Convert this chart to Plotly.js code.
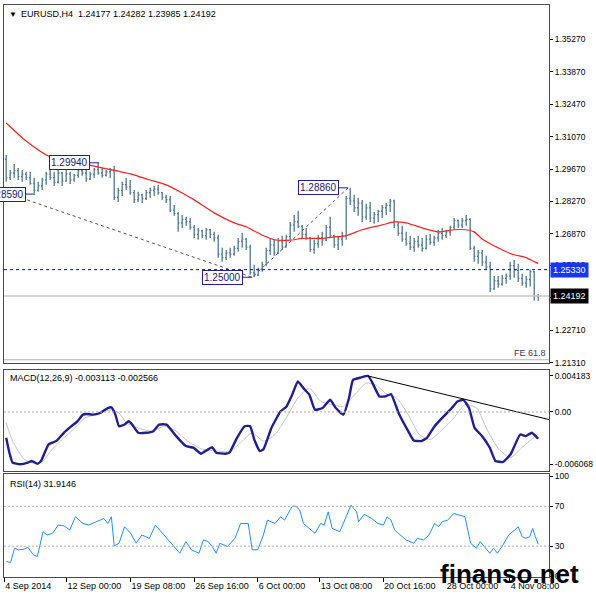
<!DOCTYPE html>
<html><head><meta charset="utf-8">
<script src="https://cdn.plot.ly/plotly-3.0.1.min.js"></script>
<style>html,body{margin:0;padding:0;background:#fff}#chart{width:596px;height:600px}</style>
</head><body><div id="chart"></div>
<script>
// ---- price bars (EURUSD H4, sampled) ----
const barOpen = [1.3010,1.2930,1.2950,1.2960,1.2935,1.2945,1.2930,1.2905,1.2875,1.2895,
1.2920,1.2945,1.2930,1.2910,1.2950,1.2915,1.2945,1.2920,1.2940,1.2960,
1.2950,1.2925,1.2945,1.2965,1.2950,1.2940,1.2955,1.2960,1.2845,1.2875,
1.2900,1.2890,1.2865,1.2835,1.2855,1.2840,1.2865,1.2875,1.2880,1.2865,
1.2845,1.2835,1.2790,1.2775,1.2735,1.2750,1.2740,1.2715,1.2685,1.2700,
1.2680,1.2705,1.2685,1.2670,1.2600,1.2585,1.2605,1.2600,1.2625,1.2655,
1.2665,1.2630,1.2520,1.2510,1.2535,1.2555,1.2615,1.2640,1.2605,1.2655,
1.2630,1.2675,1.2725,1.2740,1.2720,1.2685,1.2670,1.2620,1.2645,1.2670,
1.2660,1.2715,1.2680,1.2640,1.2665,1.2680,1.2840,1.2830,1.2800,1.2820,
1.2760,1.2800,1.2755,1.2770,1.2785,1.2800,1.2810,1.2830,1.2725,1.2690,
1.2665,1.2645,1.2630,1.2655,1.2640,1.2625,1.2665,1.2650,1.2670,1.2690,
1.2680,1.2695,1.2715,1.2745,1.2725,1.2745,1.2750,1.2625,1.2590,1.2605,
1.2565,1.2545,1.2450,1.2485,1.2470,1.2495,1.2505,1.2550,1.2530,1.2495,
1.2475,1.2490,1.2525,1.24177];
const barHigh = [1.3028,1.2963,1.2989,1.2972,1.2963,1.2955,1.2955,1.2929,1.2912,1.2929,
1.2955,1.2963,1.2955,1.2963,1.2955,1.2963,1.2955,1.2946,1.2972,1.2981,
1.2963,1.2955,1.2972,1.2994,1.2972,1.2963,1.2972,1.2981,1.2886,1.2912,
1.2929,1.2920,1.2877,1.2869,1.2860,1.2877,1.2886,1.2894,1.2899,1.2869,
1.2856,1.2851,1.2812,1.2782,1.2769,1.2761,1.2756,1.2726,1.2713,1.2705,
1.2713,1.2709,1.2696,1.2683,1.2627,1.2618,1.2627,1.2636,1.2670,1.2692,
1.2670,1.2640,1.2554,1.2541,1.2567,1.2627,1.2670,1.2662,1.2670,1.2679,
1.2683,1.2739,1.2769,1.2787,1.2726,1.2713,1.2675,1.2662,1.2683,1.2696,
1.2726,1.2761,1.2683,1.2679,1.2696,1.2851,1.2886,1.2856,1.2843,1.2834,
1.2817,1.2825,1.2782,1.2791,1.2812,1.2821,1.2838,1.2835,1.2739,1.2722,
1.2696,1.2679,1.2670,1.2679,1.2670,1.2683,1.2687,1.2679,1.2705,1.2713,
1.2705,1.2722,1.2756,1.2748,1.2756,1.2769,1.2755,1.2636,1.2618,1.2618,
1.2593,1.2567,1.2506,1.2506,1.2511,1.2515,1.2567,1.2575,1.2558,1.2515,
1.2506,1.2533,1.2528,1.24282];
const barLow = [1.2912,1.2920,1.2929,1.2920,1.2912,1.2920,1.2899,1.2864,1.2869,1.2877,
1.2899,1.2920,1.2894,1.2905,1.2894,1.2912,1.2903,1.2912,1.2929,1.2938,
1.2912,1.2920,1.2929,1.2942,1.2929,1.2935,1.2929,1.2834,1.2825,1.2851,
1.2877,1.2856,1.2821,1.2825,1.2821,1.2834,1.2843,1.2851,1.2856,1.2834,
1.2821,1.2782,1.2765,1.2696,1.2713,1.2722,1.2705,1.2670,1.2662,1.2670,
1.2662,1.2670,1.2653,1.2584,1.2567,1.2575,1.2584,1.2593,1.2610,1.2627,
1.2618,1.2511,1.2500,1.2506,1.2524,1.2549,1.2597,1.2593,1.2600,1.2618,
1.2628,1.2662,1.2696,1.2713,1.2670,1.2662,1.2610,1.2601,1.2627,1.2636,
1.2655,1.2670,1.2627,1.2618,1.2636,1.2662,1.2812,1.2782,1.2765,1.2739,
1.2748,1.2739,1.2731,1.2739,1.2756,1.2769,1.2782,1.2713,1.2679,1.2653,
1.2636,1.2618,1.2610,1.2627,1.2610,1.2620,1.2640,1.2636,1.2653,1.2662,
1.2670,1.2679,1.2705,1.2713,1.2713,1.2722,1.2618,1.2567,1.2558,1.2549,
1.2532,1.2437,1.2446,1.2455,1.2463,1.2472,1.2489,1.2498,1.2480,1.2463,
1.2455,1.2460,1.2400,1.23985];
const barClose = [1.2930,1.2950,1.2960,1.2935,1.2945,1.2930,1.2905,1.2875,1.2895,1.2920,
1.2945,1.2930,1.2910,1.2950,1.2915,1.2945,1.2920,1.2940,1.2960,1.2950,
1.2925,1.2945,1.2965,1.2950,1.2940,1.2955,1.2960,1.2845,1.2875,1.2900,
1.2890,1.2865,1.2835,1.2855,1.2840,1.2865,1.2875,1.2880,1.2865,1.2845,
1.2835,1.2790,1.2775,1.2735,1.2750,1.2740,1.2715,1.2685,1.2700,1.2680,
1.2705,1.2685,1.2670,1.2600,1.2585,1.2605,1.2600,1.2625,1.2655,1.2665,
1.2630,1.2520,1.2510,1.2535,1.2555,1.2615,1.2640,1.2605,1.2655,1.2630,
1.2675,1.2725,1.2740,1.2720,1.2685,1.2670,1.2620,1.2645,1.2670,1.2660,
1.2715,1.2680,1.2640,1.2665,1.2680,1.2840,1.2830,1.2800,1.2820,1.2760,
1.2800,1.2755,1.2770,1.2785,1.2800,1.2810,1.2830,1.2725,1.2690,1.2665,
1.2645,1.2630,1.2655,1.2640,1.2625,1.2665,1.2650,1.2670,1.2690,1.2680,
1.2695,1.2715,1.2745,1.2725,1.2745,1.2750,1.2625,1.2590,1.2605,1.2565,
1.2545,1.2450,1.2485,1.2470,1.2495,1.2505,1.2550,1.2530,1.2495,1.2475,
1.2490,1.2525,1.2418,1.24192];

// ---- moving average (red) ----
const maIdx = [0,5,11,17,24,31,36,40,44,47,52,57,60,62,65,67,71,74,79,83,85,89,94,97,100,104,108,112,115,117,119,121,123,125,127,130,132,133];
const maVal = [1.3166,1.3088,1.3019,1.2998,1.2972,1.2946,1.2920,1.2899,1.2864,1.2834,
1.2778,1.2735,1.2718,1.2700,1.2675,1.2662,1.2660,1.2668,1.2668,1.2675,
1.2680,1.2705,1.2726,1.2739,1.2735,1.2713,1.2696,1.2705,1.2705,1.2696,
1.2665,1.2645,1.2627,1.2610,1.2597,1.2585,1.2567,1.2560];

// ---- Fibonacci expansion points ----
const feIdx = [1, 61.5, 85.5];
const fePrice = [1.2859, 1.2500, 1.2886];
const feLevel = 1.2144;

// ---- labelled price points ----
const labelIdx = [7.25, 23.25, 61.5, 85.5];
const labelPrice = [1.2859, 1.2994, 1.2500, 1.2886];
const labelText = ['1.28590', '1.29940', '1.25000', '1.28860'];

const levelLine = 1.2533;   // blue dashed
const lastPrice = 1.24192;  // grey bid line

// ---- MACD ----
const macdIdx = [0,0.7,1.6,3.5,5.4,6.4,7.8,8.7,10.6,12.5,14.4,16.3,17.8,19.2,20.1,21.6,23.5,25.4,26.3,27.3,
28.2,29.6,30.6,31.5,33.0,34.9,36.8,38.2,40.1,42.5,44.9,46.8,48.7,50.1,51.5,52.5,54.8,55.8,57.7,59.6,
61.0,62.0,63.4,64.3,66.3,68.6,70.1,71.5,72.9,74.3,75.8,77.2,79.1,81.0,82.4,84.3,85.7,86.7,88.6,90.5,
91.4,93.3,94.8,96.2,98.1,100.5,101.9,103.8,105.2,107.1,109.0,111.4,112.8,114.3,115.7,117.1,119.0,120.9,122.3,124.2,
126.1,128.5,129.9,131.4,133];
const macdVal = [-0.00300,-0.00454,-0.00588,-0.00607,-0.00588,-0.00569,-0.00603,-0.00569,-0.00377,-0.00338,
-0.00242,-0.00165,-0.00108,-0.00031,-0.00023,-0.00031,-0.00012,0.00046,0.00054,-0.00031,
-0.00165,-0.00146,-0.00108,-0.00146,-0.00242,-0.00242,-0.00223,-0.00146,-0.00146,-0.00281,
-0.00396,-0.00415,-0.00485,-0.00446,-0.00408,-0.00473,-0.00485,-0.00473,-0.00300,-0.00165,
-0.00165,-0.00319,-0.00454,-0.00435,-0.00185,0.00008,0.00065,0.00200,0.00354,0.00277,
0.00200,0.00027,0.00046,0.00142,0.00046,-0.00031,0.00162,0.00373,0.00400,0.00418,
0.00354,0.00181,0.00181,0.00208,-0.00012,-0.00223,-0.00331,-0.00338,-0.00300,-0.00165,
-0.00069,0.00046,0.00123,0.00142,0.00046,-0.00185,-0.00281,-0.00415,-0.00569,-0.00581,
-0.00492,-0.00262,-0.00281,-0.00242,-0.00311];
const sigIdx = [0,1.6,4.5,7.3,9.2,11.1,14.0,16.8,19.7,22.5,26.3,28.2,30.1,33.0,36.3,39.6,42.5,45.3,49.1,53.0,
55.8,58.6,61.5,64.3,67.2,70.0,72.9,75.8,78.6,81.4,84.3,87.1,90.0,92.4,94.8,97.6,100.5,103.3,106.1,109.0,
111.9,114.7,117.6,120.4,123.2,126.1,128.9,131.8,133];
const sigVal = [-0.00127,-0.00338,-0.00550,-0.00600,-0.00570,-0.00454,-0.00319,-0.00204,-0.00069,-0.00031,
0.00027,-0.00012,-0.00127,-0.00185,-0.00223,-0.00165,-0.00223,-0.00338,-0.00435,-0.00454,
-0.00462,-0.00358,-0.00242,-0.00338,-0.00262,-0.00069,0.00162,0.00277,0.00123,0.00085,
0.00065,0.00200,0.00335,0.00315,0.00219,0.00162,-0.00031,-0.00262,-0.00319,-0.00204,
-0.00069,0.00085,0.00046,-0.00223,-0.00435,-0.00531,-0.00415,-0.00300,-0.00257];
const macdTrendIdx = [90.5, 135.7];
const macdTrendVal = [0.00418, -0.00088];

// ---- RSI ----
const rsiIdx = [0,1.1,2.1,3.0,4.5,5.4,6.8,7.8,9.2,10.2,11.6,13.0,14.4,15.9,17.3,19.2,20.6,22.0,23.5,24.4,
25.4,26.3,27.0,28.2,29.6,31.1,32.5,33.9,35.8,37.3,38.7,40.6,42.0,43.4,44.9,46.3,48.2,49.3,50.5,51.5,
52.5,53.4,55.3,57.2,58.6,60.5,61.5,62.9,64.3,65.3,67.2,68.6,69.6,71.5,72.4,73.4,74.3,76.2,77.2,78.6,
79.5,80.5,81.5,83.4,84.8,86.2,87.6,88.1,89.5,91.4,92.9,94.3,95.2,96.2,97.1,98.1,100.0,101.9,102.8,104.3,
105.7,107.1,108.1,109.0,110.4,111.9,113.8,114.7,116.1,117.6,118.5,119.5,120.9,121.8,122.8,124.2,125.6,127.1,128.0,129.0,
129.9,130.9,131.6,132.3,133];
const rsiVal = [14.6,13.6,27.9,26.3,26.9,28.9,21.3,19.6,44.5,41.2,42.9,51.2,50.5,46.2,59.5,52.8,51.2,54.0,56.2,57.8,
52.8,59.5,30.2,32.9,49.5,42.9,32.9,41.2,37.9,51.2,44.5,36.2,29.6,22.9,34.6,26.3,22.9,36.2,34.6,29.6,
22.9,32.9,29.6,37.9,52.8,52.8,26.3,26.3,41.2,56.2,52.8,59.5,56.2,70.1,70.1,66.1,52.8,46.2,42.9,52.8,
51.2,64.5,47.8,44.5,57.8,71.1,64.5,54.5,62.0,57.8,52.8,51.2,59.5,56.2,46.2,42.9,36.2,32.9,37.9,36.2,
41.2,52.8,49.5,54.5,56.2,62.8,60.1,59.5,32.9,27.9,34.6,29.6,22.9,27.9,22.9,31.2,41.2,46.2,49.5,39.5,
37.9,39.5,47.8,39.5,31.9];
const rsiLevels = [70, 30];

// ---- axis ticks ----
const priceTicks = [1.35270,1.33870,1.32470,1.31070,1.29670,1.28270,1.26870,1.25510,1.24110,1.22710,1.21310];
const macdTicks = [0.004183, 0, -0.006068];
const macdTickText = ['0.004183', '0.00', '-0.006068'];
const rsiTicks = [100, 70, 30, 0];
const dateTickIdx = [-0.5, 15.1, 31.1, 47.0, 62.9, 78.4, 94.2, 109.9, 125.9];
const dateLabels = ['4 Sep 2014','12 Sep 00:00','19 Sep 08:00','26 Sep 16:00','6 Oct 00:00','13 Oct 08:00','20 Oct 16:00','28 Oct 00:00','4 Nov 08:00'];

// ---------------------------------------------------------
const FONT = 'Liberation Sans, Arial, sans-serif';
const barIdx = barOpen.map((_, i) => i);
const BAR = '#4c7894';
const NAVY = '#1f1f90';

const traces = [
  {type:'ohlc', x:barIdx, open:barOpen, high:barHigh, low:barLow, close:barClose,
   xaxis:'x', yaxis:'y', tickwidth:0.3, hoverinfo:'skip', showlegend:false,
   increasing:{line:{color:BAR, width:1.3}}, decreasing:{line:{color:BAR, width:1.3}}},
  {type:'scatter', mode:'lines', x:maIdx, y:maVal, xaxis:'x', yaxis:'y',
   line:{color:'#ff2020', width:1.2, shape:'spline', smoothing:0.6}, hoverinfo:'skip', showlegend:false},
  {type:'scatter', mode:'lines', x:feIdx, y:fePrice, xaxis:'x', yaxis:'y',
   line:{color:'#555555', width:1, dash:'3px,3px'}, hoverinfo:'skip', showlegend:false},
  {type:'scatter', mode:'lines', x:sigIdx, y:sigVal, xaxis:'x2', yaxis:'y2',
   line:{color:'#c4c4c4', width:1, shape:'spline', smoothing:0.6}, hoverinfo:'skip', showlegend:false},
  {type:'scatter', mode:'lines', x:macdIdx, y:macdVal, xaxis:'x2', yaxis:'y2',
   line:{color:NAVY, width:2.4, shape:'spline', smoothing:0.4}, hoverinfo:'skip', showlegend:false},
  {type:'scatter', mode:'lines', x:macdTrendIdx, y:macdTrendVal, xaxis:'x2', yaxis:'y2',
   line:{color:'#000000', width:1}, hoverinfo:'skip', showlegend:false},
  {type:'scatter', mode:'lines', x:rsiIdx, y:rsiVal, xaxis:'x3', yaxis:'y3',
   line:{color:'#1e90ff', width:1}, hoverinfo:'skip', showlegend:false}
];

const xRange = [-0.55, 135.7];
const frame = {showline:true, mirror:true, linecolor:'#4a4a4a', linewidth:1, showgrid:false, zeroline:false};
const tickFont = {family:FONT, size:8.5, color:'#000'};

const shapes = [
  {type:'line', xref:'paper', x0:0, x1:1, yref:'y', y0:levelLine, y1:levelLine, line:{color:'#0000ff', width:1, dash:'3px,3px'}},
  {type:'line', xref:'paper', x0:0, x1:1, yref:'y', y0:lastPrice, y1:lastPrice, line:{color:'#c8c8c8', width:1.5}},
  {type:'line', xref:'paper', x0:0, x1:1, yref:'y', y0:feLevel, y1:feLevel, line:{color:'#b4b4b4', width:1}},
  {type:'line', xref:'paper', x0:0, x1:1, yref:'y2', y0:0, y1:0, line:{color:'#a8a8a8', width:1, dash:'2px,2px'}}
];
rsiLevels.forEach(v => shapes.push({type:'line', xref:'paper', x0:0, x1:1, yref:'y3', y0:v, y1:v,
  line:{color:'#b0b0b0', width:1, dash:'2px,2px'}}));
labelIdx.forEach((xi, k) => shapes.push({type:'line', xref:'x', yref:'y', x0:xi-2.3, x1:xi,
  y0:labelPrice[k], y1:labelPrice[k], line:{color:NAVY, width:1}}));

const annotations = [
  {xref:'paper', yref:'paper', x:0.006, y:0.984, xanchor:'left', yanchor:'middle', showarrow:false,
   text:'▼', font:{family:FONT, size:8, color:'#000'}},
  {xref:'paper', yref:'paper', x:0.027, y:0.984, xanchor:'left', yanchor:'middle', showarrow:false,
   text:'EURUSD,H4&nbsp; 1.24177 1.24282 1.23985 1.24192', font:{family:FONT, size:9, color:'#000'}},
  {xref:'paper', yref:'paper', x:0.007, y:0.348, xanchor:'left', yanchor:'middle', showarrow:false,
   text:'MACD(12,26,9) -0.003113 -0.002566', font:{family:FONT, size:9, color:'#000'}},
  {xref:'paper', yref:'paper', x:0.007, y:0.1626, xanchor:'left', yanchor:'middle', showarrow:false,
   text:'RSI(14) 31.9146', font:{family:FONT, size:9, color:'#000'}},
  {xref:'paper', yref:'y', x:0.998, y:feLevel, xanchor:'right', yanchor:'bottom', yshift:0, showarrow:false,
   text:'FE 61.8', font:{family:FONT, size:9, color:'#2f3f5f'}},
  {xref:'paper', yref:'y', x:1, y:levelLine, xanchor:'left', yanchor:'middle', xshift:1, showarrow:false,
   text:'1.25330', bgcolor:'#1436ff', borderpad:2, font:{family:FONT, size:9, color:'#fff'}},
  {xref:'paper', yref:'y', x:1, y:lastPrice, xanchor:'left', yanchor:'middle', xshift:1, showarrow:false,
   text:'1.24192', bgcolor:'#000000', borderpad:2, font:{family:FONT, size:9, color:'#fff'}},
  {xref:'paper', yref:'paper', x:0.928, y:0.006, xanchor:'center', yanchor:'middle', showarrow:false,
   text:'<b>finanso.net</b>', font:{family:FONT, size:26, color:'#000'}}
];
labelIdx.forEach((xi, k) => annotations.push({xref:'x', yref:'y', x:xi, y:labelPrice[k],
  xanchor:'right', yanchor:'middle', xshift:-9, showarrow:false, text:labelText[k],
  bgcolor:'#ffffff', bordercolor:NAVY, borderwidth:1, borderpad:1,
  font:{family:FONT, size:10, color:'#1a1a70'}}));

const layout = {
  width:596, height:600, margin:{l:4, r:47, t:5, b:23},
  paper_bgcolor:'#ffffff', plot_bgcolor:'#ffffff', showlegend:false, hovermode:false,
  xaxis: Object.assign({domain:[0,1], anchor:'y', range:xRange, showticklabels:false, ticks:'',
    rangeslider:{visible:false}}, frame),
  xaxis2: Object.assign({domain:[0,1], anchor:'y2', matches:'x', range:xRange, showticklabels:false, ticks:''}, frame),
  xaxis3: Object.assign({domain:[0,1], anchor:'y3', matches:'x', range:xRange,
    tickmode:'array', tickvals:dateTickIdx, ticktext:dateLabels, ticks:'outside', ticklen:4, tickcolor:'#000',
    ticklabelposition:'outside right', tickfont:{family:FONT, size:9, color:'#000'}}, frame),
  yaxis: Object.assign({domain:[0.3741,1], anchor:'x', side:'right', range:[1.2130,1.3675],
    tickmode:'array', tickvals:priceTicks, ticktext:priceTicks.map(v => v.toFixed(5)),
    ticks:'outside', ticklen:3, tickcolor:'#000', tickfont:tickFont}, frame),
  yaxis2: Object.assign({domain:[0.1853,0.3619], anchor:'x2', side:'right', range:[-0.00686,0.00488],
    tickmode:'array', tickvals:macdTicks, ticktext:macdTickText,
    ticks:'outside', ticklen:3, tickcolor:'#000', tickfont:tickFont}, frame),
  yaxis3: Object.assign({domain:[0,0.1801], anchor:'x3', side:'right', range:[-1,102.5],
    tickmode:'array', tickvals:rsiTicks, ticktext:rsiTicks.map(String),
    ticks:'outside', ticklen:3, tickcolor:'#000', tickfont:tickFont}, frame),
  shapes: shapes,
  annotations: annotations
};

Plotly.newPlot('chart', traces, layout, {staticPlot:true, displayModeBar:false});
</script></body></html>
